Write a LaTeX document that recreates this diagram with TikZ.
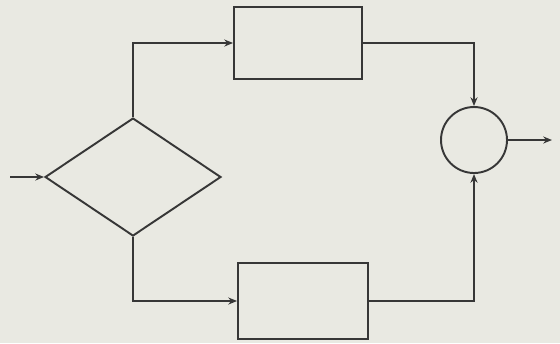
\documentclass[tikz,border=0pt]{standalone}
\usepackage{tikz}
\usetikzlibrary{arrows.meta,shapes.geometric}
\definecolor{paper}{RGB}{233,233,226}
\definecolor{ink}{RGB}{55,55,55}

\begin{document}
\begin{tikzpicture}[x=0.02cm,y=-0.02cm,>={Stealth[length=5pt,width=4pt]},
    line width=1.1pt,draw=ink,
    blok/.style={draw=ink,rectangle,inner sep=0pt},
    romb/.style={draw=ink,diamond,inner sep=0pt,minimum width=3.52cm,minimum height=2.36cm},
    sumator/.style={draw=ink,circle,inner sep=0pt,minimum size=1.32cm}]
    \fill[paper] (0,0) rectangle (560,343);
    \useasboundingbox (0,0) rectangle (560,343);
    % elementy schematu
    \node[romb] (war) at (133,177) {};
    \node[blok,minimum width=2.56cm,minimum height=1.44cm] (gora) at (298,43) {};
    \node[blok,minimum width=2.6cm,minimum height=1.52cm] (dol) at (303,301) {};
    \node[sumator] (sum) at (474,140) {};
    \coordinate (wej) at (10,177);
    \coordinate (wyj) at (552,140);
    % polaczenia
    \draw[->,ink] (wej)--(war.west);
    \draw[->,ink] (war.north) |- (gora.west);
    \draw[->,ink] (gora.east) -| (sum.north);
    \draw[->,ink] (war.south) |- (dol.west);
    \draw[->,ink] (dol.east) -| (sum.south);
    \draw[->,ink] (sum.east)--(wyj);
\end{tikzpicture}
\end{document}
